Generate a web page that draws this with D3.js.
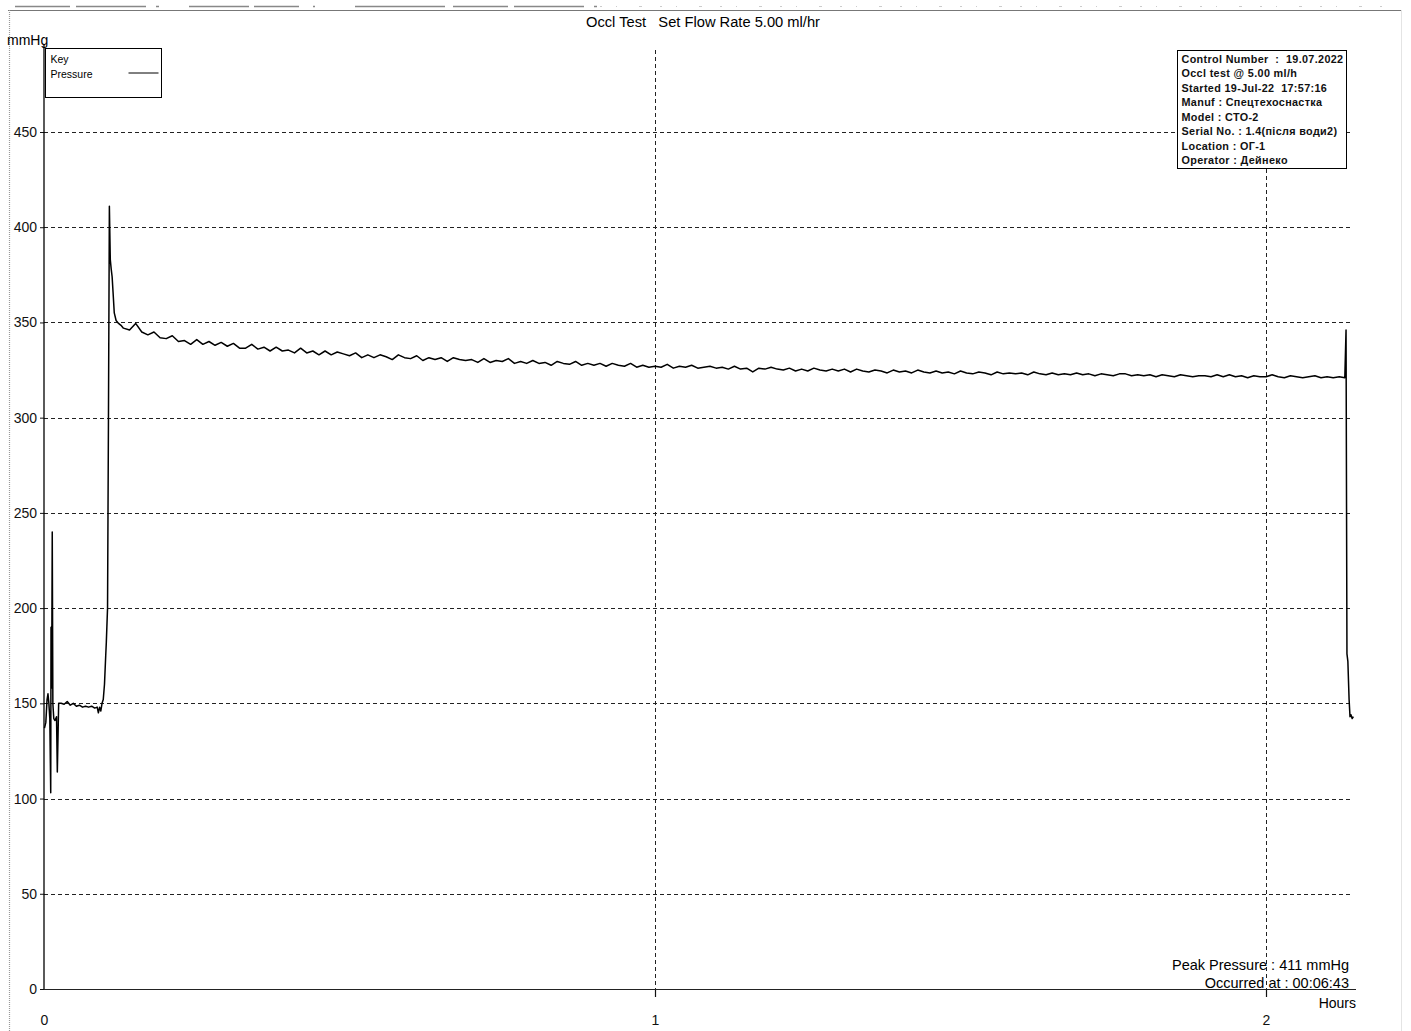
<!DOCTYPE html>
<html>
<head>
<meta charset="utf-8">
<script src="https://cdn.jsdelivr.net/npm/d3@7"></script>
<style>
  html, body { margin: 0; padding: 0; background: #fff; }
  svg { display: block; font-family: "Liberation Sans", Arial, sans-serif; }
</style>
</head>
<body>
<div id="chart"></div>
<script>
const WIDTH = 1411;
const HEIGHT = 1031;
const GRID_DASH = "4,3";

// --------------- Data ---------------
// y ticks (mmHg) and x ticks (hours)
const yTicks = [0, 50, 100, 150, 200, 250, 300, 350, 400, 450];
const xTicks = [0, 1, 2];

// start of test: oscillation, first plateau, rise to the peak
const startHours = [0.0008, 0.003, 0.005, 0.0065, 0.008, 0.0095, 0.011, 0.0115, 0.0125, 0.0135, 0.0145, 0.016, 0.018, 0.0205, 0.0218, 0.024,
  0.028, 0.033, 0.038, 0.043, 0.048, 0.053, 0.058, 0.063, 0.068, 0.073, 0.078, 0.083, 0.087, 0.089, 0.091, 0.093,
  0.095, 0.097, 0.099, 0.101, 0.102, 0.104, 0.1055, 0.107, 0.1085, 0.110, 0.1115, 0.113, 0.115, 0.118, 0.122, 0.126];
const startPressure = [137, 140, 152, 155, 150, 142, 103, 190, 158, 240, 150, 142, 141, 143, 114, 150,
  150, 149.5, 151, 149, 150, 148.5, 149, 148, 148.5, 148, 148.5, 147.5, 148, 145, 148, 146,
  150, 152, 160, 175, 182, 200, 300, 411, 383, 378, 374, 366, 355, 351, 349.5, 348.5];

// long slow decay, one sample every 0.01 h from 0.13 h
const PLATEAU_START = 0.13;
const SAMPLE_STEP = 0.01;
const plateauPressure = [
  347, 346, 349.5, 345, 343.5, 345, 342,
  341.5, 343, 340, 340.5, 338.5, 341, 338.5, 340, 338, 339.5,
  337.5, 339, 336.5, 336.5, 338.5, 336, 337, 335, 337, 335,
  335.5, 334, 336.5, 334, 335, 333, 335, 333, 334.5, 333.5,
  332.5, 334, 331.5, 333, 331.5, 333, 332, 330.5, 333, 331.5,
  331, 332.5, 330, 331.5, 330.5, 331.5, 329.5, 331.5, 330.5, 330,
  330.5, 329, 331, 329, 330, 329.5, 331, 328.5, 329.5, 328.5,
  330, 328.5, 329, 327.5, 329.5, 328.5, 328, 329.5, 327.5, 328.5,
  327.5, 328.5, 327, 328.5, 327.5, 327, 328.5, 326.5, 327.5, 326.5,
  327, 326.5, 328, 326, 327, 326.5, 327.5, 326, 326.5, 327,
  326, 326.5, 325.5, 327, 325.5, 326, 324, 326, 325.5, 326.5,
  325.5, 325, 326, 324.5, 325.5, 324.5, 326, 325, 324.5, 325.5,
  324.5, 325.5, 324, 325.5, 324.5, 324, 325, 324.5, 323.5, 325,
  324, 324.5, 323.5, 325, 324, 323.5, 324.5, 323.5, 324, 323,
  324.5, 323.5, 323, 324, 323.5, 322.5, 324, 323, 323.5, 323,
  323.5, 322.5, 324, 323, 322.5, 323.5, 322.5, 323, 322.5, 323.5,
  322.5, 323, 322, 323, 322.5, 322, 323, 323, 322, 322.5,
  322, 322.5, 321.5, 322.5, 322, 321.5, 322.5, 322, 321.5, 322,
  322, 321.5, 322.5, 321.5, 322.5, 321.5, 322, 321, 322, 321.5,
  321.5, 322.5, 321.5, 321, 322, 321.5, 321, 321.5, 322, 321,
  321.5, 321, 321.5
];

// end of test: release
const endHours = [2.129, 2.131, 2.1325, 2.134, 2.136, 2.1375, 2.139, 2.141, 2.143];
const endPressure = [321, 346, 176, 172, 152, 143, 144, 142, 143];

const infoLines = [
  "Control Number  :  19.07.2022",
  "Occl test @ 5.00 ml/h",
  "Started 19-Jul-22  17:57:16",
  "Manuf : Спецтехоснастка",
  "Model : СТО-2",
  "Serial No. : 1.4(після води2)",
  "Location : ОГ-1",
  "Operator : Дейнеко"
];

const pressureData = []
  .concat(startHours.map((h, i) => [h, startPressure[i]]))
  .concat(plateauPressure.map((p, i) => [PLATEAU_START + i * SAMPLE_STEP, p]))
  .concat(endHours.map((h, i) => [h, endPressure[i]]));

// --------------- Step 1 ---------------
// svg + scales
const svg = d3
  .select("#chart")
  .append("svg")
  .attr("width", WIDTH)
  .attr("height", HEIGHT);

const x = d3.scaleLinear().domain([0, 2]).range([44, 1266]);
const y = d3.scaleLinear().domain([0, 450]).range([989, 132]);

const X_END = 1356;
const GRID_END = 1350;
const Y_TOP = 45;

// page edge / scan border
svg.append("line")
  .attr("x1", 8).attr("x2", 1402).attr("y1", 10.5).attr("y2", 10.5)
  .attr("stroke", "#777").attr("stroke-width", 1);
svg.append("line")
  .attr("x1", 15).attr("x2", 600).attr("y1", 6.5).attr("y2", 6.5)
  .attr("stroke", "#888").attr("stroke-width", 1.5)
  .attr("stroke-dasharray", "55,6,70,10,3,30,60,5,45,14,2,40,90,8");
svg.append("line")
  .attr("x1", 600).attr("x2", 1390).attr("y1", 6.5).attr("y2", 6.5)
  .attr("stroke", "#ccc").attr("stroke-width", 1)
  .attr("stroke-dasharray", "2,14,1,22,3,18");
svg.append("line")
  .attr("x1", 9.5).attr("x2", 9.5).attr("y1", 10).attr("y2", 1031)
  .attr("stroke", "#999").attr("stroke-width", 1.2)
  .attr("stroke-dasharray", "1,1");
svg.append("line")
  .attr("x1", 1401.5).attr("x2", 1401.5).attr("y1", 10).attr("y2", 1031)
  .attr("stroke", "#e4e4e4").attr("stroke-width", 1);

// --------------- Step 2 ---------------
// grid
svg.append("g")
  .selectAll("line")
  .data(yTicks.filter(d => d > 0))
  .enter()
  .append("line")
  .attr("x1", x(0)).attr("x2", GRID_END)
  .attr("y1", d => Math.round(y(d)) + 0.5)
  .attr("y2", d => Math.round(y(d)) + 0.5)
  .attr("stroke", "#222")
  .attr("stroke-dasharray", GRID_DASH);

svg.append("g")
  .selectAll("line")
  .data(xTicks.filter(d => d > 0))
  .enter()
  .append("line")
  .attr("x1", d => Math.round(x(d)) + 0.5)
  .attr("x2", d => Math.round(x(d)) + 0.5)
  .attr("y1", 50).attr("y2", y(0))
  .attr("stroke", "#222")
  .attr("stroke-dasharray", GRID_DASH);

// --------------- Step 3 ---------------
// axes
const yAxis = d3.axisLeft(y).tickValues(yTicks).tickSize(4).tickPadding(3);
const yg = svg.append("g").attr("transform", "translate(44,0)").call(yAxis);
yg.select(".domain").remove();
yg.selectAll("text").attr("font-size", 14).attr("font-family", "Liberation Sans, Arial").attr("fill", "#111");
yg.selectAll("line").attr("stroke", "#111");
svg.append("line")
  .attr("x1", 44).attr("x2", 44).attr("y1", Y_TOP).attr("y2", y(0))
  .attr("stroke", "#000").attr("stroke-width", 1.3);

const xAxis = d3.axisBottom(x).tickValues(xTicks).tickFormat(d3.format("d")).tickSize(8).tickPadding(18);
const xg = svg.append("g").attr("transform", `translate(0,${y(0)})`).call(xAxis);
xg.select(".domain").remove();
xg.selectAll("text").attr("font-size", 14).attr("font-family", "Liberation Sans, Arial").attr("fill", "#111");
xg.selectAll("line").attr("stroke", "#111").attr("stroke-width", 1.2)
  .attr("opacity", d => d === 0 ? 0 : 1);
svg.append("line")
  .attr("x1", 44).attr("x2", X_END).attr("y1", y(0) + 0.5).attr("y2", y(0) + 0.5)
  .attr("stroke", "#222").attr("stroke-width", 1.2);

svg.append("text")
  .attr("x", X_END).attr("y", 1008)
  .attr("text-anchor", "end")
  .attr("font-size", 14)
  .text("Hours");

svg.append("text")
  .attr("x", 7).attr("y", 45)
  .attr("font-size", 14)
  .text("mmHg");

svg.append("text")
  .attr("x", 703).attr("y", 27)
  .attr("text-anchor", "middle")
  .attr("font-size", 14.7)
  .style("white-space", "pre")
  .text("Occl Test   Set Flow Rate 5.00 ml/hr");

// --------------- Step 4 ---------------
// pressure trace
const line = d3.line().x(d => x(d[0])).y(d => y(d[1]));
svg.append("path")
  .datum(pressureData)
  .attr("d", line)
  .attr("fill", "none")
  .attr("stroke", "#000")
  .attr("stroke-width", 1.5)
  .attr("stroke-linejoin", "round");

// --------------- Step 5 ---------------
// key box
const key = svg.append("g").attr("transform", "translate(45.5,48.5)");
key.append("rect").attr("width", 116).attr("height", 49)
  .attr("fill", "#fff").attr("stroke", "#000");
key.append("text").attr("x", 5).attr("y", 14).attr("font-size", 10.5).text("Key");
key.append("text").attr("x", 5).attr("y", 29).attr("font-size", 10.5).text("Pressure");
key.append("line").attr("x1", 83).attr("x2", 113).attr("y1", 24.5).attr("y2", 24.5)
  .attr("stroke", "#000");

// info box
const info = svg.append("g").attr("transform", "translate(1177.5,50.5)");
info.append("rect").attr("width", 169).attr("height", 118)
  .attr("fill", "#fff").attr("stroke", "#000");
info.selectAll("text")
  .data(infoLines)
  .enter()
  .append("text")
  .attr("x", 4)
  .attr("y", (d, i) => 12 + i * 14.5)
  .attr("font-size", 10.8)
  .attr("font-weight", "bold")
  .attr("letter-spacing", 0.35)
  .style("white-space", "pre")
  .attr("fill", "#111")
  .text(d => d);

// peak summary
svg.append("text")
  .attr("x", 1349).attr("y", 970)
  .attr("text-anchor", "end")
  .attr("font-size", 14.5)
  .text("Peak Pressure : 411 mmHg");
svg.append("text")
  .attr("x", 1349).attr("y", 988)
  .attr("text-anchor", "end")
  .attr("font-size", 14.5)
  .text("Occurred at : 00:06:43");
</script>
</body>
</html>
